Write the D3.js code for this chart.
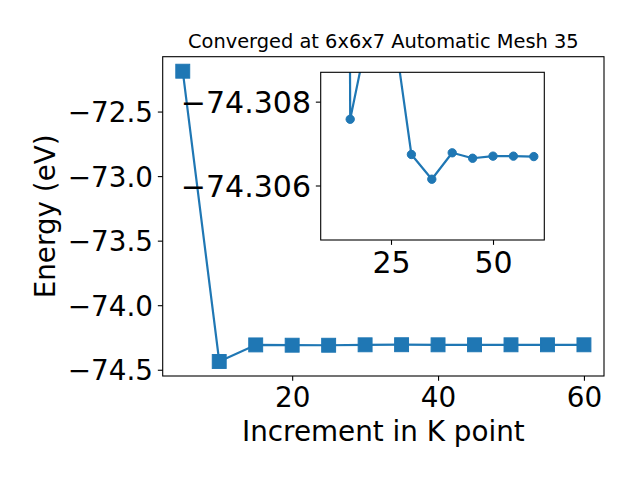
<!DOCTYPE html>
<html><head><meta charset="utf-8">
<script src="https://cdn.jsdelivr.net/npm/d3@7"></script>
<style>body{margin:0;background:#fff}svg{display:block}text{font-family:"DejaVu Sans",sans-serif}</style>
</head><body><svg id="c" width="640" height="480"></svg>
<script>
const kpoints=[5,10,15,20,25,30,35,40,45,50,55,60];
const energy=[-72.1875,-74.436,-74.30758,-74.30994,-74.3102,-74.30674,-74.30615,-74.30678,-74.30665,-74.30670,-74.30670,-74.30669];
const insetStartK=10;
const mainXTicks=[20,40,60];
const mainYTicks=[-74.5,-74.0,-73.5,-73.0,-72.5];
const insetXTicks=[25,50];
const insetYTicks=[-74.308,-74.306];
const insetXRange=[7.77,62.57];
const insetYRange=[-74.3087,-74.3047];
const titleText="Converged at 6x6x7 Automatic Mesh 35";
const xLabel="Increment in K point";
const yLabel="Energy (eV)";

const color="#1f77b4";
const svg=d3.select("#c");
const data=kpoints.map((k,i)=>({k,e:energy[i]}));
const insetData=data.filter(d=>d.k>=insetStartK);

// main axes
const M={l:162.7,r:604,t:56.7,b:376};
const xPad=(d3.max(kpoints)-d3.min(kpoints))*0.05;
const x=d3.scaleLinear().domain([d3.min(kpoints)-xPad,d3.max(kpoints)+xPad]).range([M.l,M.r]);
const ext=d3.extent(energy), yPad=(ext[1]-ext[0])*0.05;
const y=d3.scaleLinear().domain([ext[0]-yPad,ext[1]+yPad]).range([M.b,M.t]);

svg.append("rect").attr("x",M.l).attr("y",M.t).attr("width",M.r-M.l).attr("height",M.b-M.t).attr("fill","#fff");

const line=d3.line().x(d=>x(d.k)).y(d=>y(d.e));
svg.append("path").datum(data).attr("d",line).attr("fill","none").attr("stroke",color).attr("stroke-width",2.2).attr("stroke-linejoin","round");
const ms=13.9;
svg.append("g").selectAll("rect").data(data).join("rect")
  .attr("x",d=>x(d.k)-ms/2).attr("y",d=>y(d.e)-ms/2).attr("width",ms).attr("height",ms)
  .attr("fill",color).attr("stroke",color).attr("stroke-width",1);

function styleAxis(g,fs,dy){
  g.select(".domain").remove();
  g.selectAll(".tick line").attr("stroke","#000").attr("stroke-width",1.1);
  g.selectAll(".tick text").attr("font-size",fs).attr("fill","#000").attr("font-family","DejaVu Sans");
  if(dy) g.selectAll(".tick text").attr("dy",dy);
}
const gx=svg.append("g").attr("transform",`translate(0,${M.b})`)
  .call(d3.axisBottom(x).tickValues(mainXTicks).tickFormat(d3.format("d")).tickSize(4.86).tickPadding(4.86).tickSizeOuter(0));
styleAxis(gx,27.8,"0.76em");
const gy=svg.append("g").attr("transform",`translate(${M.l},0)`)
  .call(d3.axisLeft(y).tickValues(mainYTicks).tickFormat(d3.format(".1f")).tickSize(4.86).tickPadding(4.86).tickSizeOuter(0));
styleAxis(gy,27.8,"0.36em");
svg.append("rect").attr("x",M.l).attr("y",M.t).attr("width",M.r-M.l).attr("height",M.b-M.t).attr("fill","none").attr("stroke","#000").attr("stroke-width",1.1);

svg.append("text").attr("x",(M.l+M.r)/2).attr("y",48.3).attr("text-anchor","middle").attr("font-size",19.4).text(titleText);
svg.append("text").attr("x",(M.l+M.r)/2).attr("y",440.7).attr("text-anchor","middle").attr("font-size",27.8).text(xLabel);
svg.append("text").attr("transform",`translate(55,${(M.t+M.b)/2}) rotate(-90)`).attr("text-anchor","middle").attr("font-size",27.8).text(yLabel);

// inset axes
const I={l:320.7,r:544.3,t:72.3,b:240};
const xi=d3.scaleLinear().domain(insetXRange).range([I.l,I.r]);
const yi=d3.scaleLinear().domain(insetYRange).range([I.t,I.b]);
svg.append("rect").attr("x",I.l).attr("y",I.t).attr("width",I.r-I.l).attr("height",I.b-I.t).attr("fill","#fff");
svg.append("clipPath").attr("id","ic").append("rect").attr("x",I.l).attr("y",I.t).attr("width",I.r-I.l).attr("height",I.b-I.t);
const gi=svg.append("g").attr("clip-path","url(#ic)");
const linei=d3.line().x(d=>xi(d.k)).y(d=>yi(d.e));
gi.append("path").datum(insetData).attr("d",linei).attr("fill","none").attr("stroke",color).attr("stroke-width",2.2).attr("stroke-linejoin","round");
gi.selectAll("circle").data(insetData).join("circle").attr("cx",d=>xi(d.k)).attr("cy",d=>yi(d.e)).attr("r",4.17)
  .attr("fill",color).attr("stroke",color).attr("stroke-width",1);
const gxi=svg.append("g").attr("transform",`translate(0,${I.b})`)
  .call(d3.axisBottom(xi).tickValues(insetXTicks).tickFormat(d3.format("d")).tickSize(4.86).tickPadding(4.86).tickSizeOuter(0));
styleAxis(gxi,30,"0.76em");
const gyi=svg.append("g").attr("transform",`translate(${I.l},0)`)
  .call(d3.axisLeft(yi).tickValues(insetYTicks).tickFormat(d3.format(".3f")).tickSize(4.86).tickPadding(4.86).tickSizeOuter(0));
styleAxis(gyi,30,"0.36em");
svg.append("rect").attr("x",I.l).attr("y",I.t).attr("width",I.r-I.l).attr("height",I.b-I.t).attr("fill","none").attr("stroke","#000").attr("stroke-width",1.1);
</script></body></html>
